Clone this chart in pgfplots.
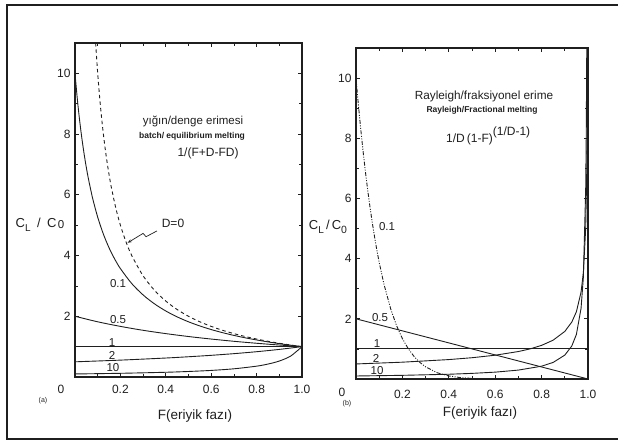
\documentclass[border=0pt]{standalone}
\usepackage{fontspec}
\setmainfont{Liberation Sans}
\usepackage{pgfplots}
\pgfplotsset{compat=1.18}
\usetikzlibrary{arrows.meta}
\definecolor{ink}{gray}{0.12}
\begin{document}
\begin{tikzpicture}
\useasboundingbox (0pt,0pt) rectangle (618pt,442pt);
\draw[line width=1.3pt, ink] (618pt,437pt) -- (7pt,437pt) -- (7pt,3pt) -- (618pt,3pt);

\pgfplotsset{
 common/.style={
  scale only axis, anchor=south west,
  xmin=0,xmax=1,ymin=0,ymax=11,
  xtick={0.2,0.4,0.6,0.8,1.0},
  xticklabels={0.2,0.4,0.6,0.8,1.0},
  minor xtick={0.1,0.3,0.5,0.7,0.9},
  ytick={2,4,6,8,10},
  minor ytick={1,3,5,7,9},
  tick align=inside,
  major tick length=4pt, minor tick length=3pt,
  tick style={line width=0.7pt, ink},
  axis line style={line width=1.1pt, ink},
  ticklabel style={font=\fontsize{12}{14}\selectfont, text=ink},
  /pgf/number format/assume math mode=true,
  xticklabel style={yshift=-5pt},
  yticklabel style={xshift=-1pt},
  clip=true,
 },
 crv/.style={line width=0.9pt, ink, no markers},
}

% ---------------- (a) batch melting ----------------
\begin{axis}[common, at={(75pt,65pt)}, width=227pt, height=334pt]
\addplot[crv, smooth, dash pattern=on 3.5pt off 3pt] coordinates {
(0.0909,11) (0.1,10) (0.11,9.091) (0.12,8.333) (0.13,7.692) (0.14,7.143) (0.15,6.667)
(0.16,6.25) (0.18,5.556) (0.2,5) (0.225,4.444) (0.25,4) (0.3,3.333) (0.35,2.857)
(0.4,2.5) (0.45,2.222) (0.5,2) (0.55,1.818) (0.6,1.667) (0.65,1.538) (0.7,1.429)
(0.75,1.333) (0.8,1.25) (0.85,1.176) (0.9,1.111) (0.95,1.053) (1.0,1)};
\addplot[crv, smooth] coordinates {
(0,10) (0.01,9.174) (0.02,8.475) (0.03,7.874) (0.04,7.353) (0.05,6.897) (0.06,6.494)
(0.075,5.970) (0.08,5.814) (0.1,5.263) (0.125,4.706) (0.15,4.255) (0.175,3.883)
(0.2,3.571) (0.25,3.077) (0.3,2.703) (0.35,2.410) (0.4,2.174) (0.45,1.980) (0.5,1.818)
(0.55,1.681) (0.6,1.5625) (0.65,1.460) (0.7,1.370) (0.75,1.290) (0.8,1.220)
(0.85,1.156) (0.9,1.099) (0.95,1.047) (1.0,1)};
\addplot[crv, smooth] coordinates {
(0,2) (0.1,1.818) (0.2,1.667) (0.3,1.538) (0.4,1.429) (0.5,1.333) (0.6,1.25)
(0.7,1.176) (0.8,1.111) (0.9,1.053) (1.0,1)};
\addplot[crv] coordinates {(0,1) (1,1)};
\addplot[crv, smooth] coordinates {
(0,0.5) (0.2,0.556) (0.4,0.625) (0.5,0.667) (0.6,0.714) (0.7,0.769) (0.8,0.833)
(0.9,0.909) (1.0,1)};
\addplot[crv, smooth] coordinates {
(0,0.1) (0.2,0.122) (0.4,0.156) (0.5,0.182) (0.6,0.217) (0.7,0.270) (0.8,0.357)
(0.85,0.426) (0.9,0.526) (0.95,0.690) (1.0,1)};
\draw[ink, line width=0.7pt, -{Stealth[length=4pt,width=3pt]}]
 (axis cs:0.361,4.81) -- (axis cs:0.313,4.62) -- (axis cs:0.300,4.73) -- (axis cs:0.232,4.42);
\end{axis}

% ---------------- (b) fractional melting ----------------
\begin{axis}[common, at={(356pt,63pt)}, width=232pt, height=331pt, xticklabel style={yshift=-3pt}]
\addplot[crv, dash pattern=on 4pt off 1.5pt on 1pt off 1.5pt on 1pt off 1.5pt] coordinates {
(0,10) (0.01,9.135) (0.02,8.337) (0.03,7.603) (0.04,6.925) (0.05,6.302) (0.06,5.730)
(0.07,5.204) (0.08,4.722) (0.09,4.279) (0.1,3.874) (0.12,3.165) (0.15,2.316)
(0.175,1.770) (0.2,1.342) (0.225,1.008) (0.25,0.751) (0.275,0.553) (0.3,0.404)
(0.35,0.207) (0.4,0.101) (0.45,0.046) (0.5,0.0195)};
\addplot[crv] coordinates {(0,2) (1,0)};
\addplot[crv] coordinates {(0,1) (1,1)};
\addplot[crv] coordinates {
(0,0.5) (0.2,0.559) (0.4,0.6455) (0.5,0.7071) (0.6,0.7906) (0.7,0.9129) (0.75,1.0)
(0.8,1.118) (0.85,1.291) (0.9,1.581) (0.93,1.890) (0.95,2.236) (0.97,2.887)
(0.98,3.536) (0.99,5.0) (0.995,7.071) (0.9975,10) (0.99793,11)};
\addplot[crv] coordinates {
(0,0.1) (0.2,0.122) (0.4,0.158) (0.5,0.187) (0.6,0.228) (0.7,0.296) (0.8,0.426)
(0.85,0.552) (0.9,0.794) (0.93,1.095) (0.95,1.482) (0.97,2.347) (0.98,3.381)
(0.99,6.31) (0.9925,8.175) (0.99461,11)};
\end{axis}

% ---------------- texts ----------------
\begin{scope}[x=1pt,y=1pt]
\tikzset{t/.style={text=ink, inner sep=0pt}}
% panel a
\node[t, font=\fontsize{11.5}{13}\selectfont] at (193,321) {yığın/denge erimesi};
\node[t, font=\fontsize{8.5}{10}\selectfont\bfseries] at (192,306) {batch/ equilibrium melting};
\node[t, font=\fontsize{12}{14}\selectfont] at (208,289) {1/(F+D-FD)};
\node[t, font=\fontsize{12}{14}\selectfont] at (173,219) {D=0};
\node[t, font=\fontsize{11.5}{13}\selectfont] at (118,158) {0.1};
\node[t, font=\fontsize{11.5}{13}\selectfont] at (118,122) {0.5};
\node[t, font=\fontsize{11.5}{13}\selectfont] at (112,99) {1};
\node[t, font=\fontsize{11.5}{13}\selectfont] at (112,87) {2};
\node[t, font=\fontsize{11.5}{13}\selectfont] at (113,74) {10};
\node[t, font=\fontsize{12}{14}\selectfont] at (61,53) {0};
\node[t, font=\fontsize{7}{8}\selectfont] at (43,41) {(a)};
\node[t, font=\fontsize{13.5}{16}\selectfont] at (195,26) {F(eriyik fazı)};
\node[t, font=\fontsize{13}{15}\selectfont] at (40,217) {C\raisebox{-0.5ex}{\fontsize{10}{12}\selectfont L}\hspace{0.5em}/\hspace{0.5em}C\hspace{0.1em}\raisebox{-0.1ex}{\fontsize{11.5}{12}\selectfont 0}};
% panel b
\node[t, font=\fontsize{11.8}{14}\selectfont] at (484,346) {Rayleigh/fraksiyonel erime};
\node[t, font=\fontsize{8.5}{10}\selectfont\bfseries] at (482,332) {Rayleigh/Fractional melting};
\node[t, font=\fontsize{12}{14}\selectfont, anchor=base west] at (446,299) {1/D\,(1-F)\raisebox{1.2ex}{(1/D-1)}};
\node[t, font=\fontsize{11.5}{13}\selectfont] at (387,215) {0.1};
\node[t, font=\fontsize{11.5}{13}\selectfont] at (380,124) {0.5};
\node[t, font=\fontsize{11.5}{13}\selectfont] at (377,98) {1};
\node[t, font=\fontsize{11.5}{13}\selectfont] at (376,84) {2};
\node[t, font=\fontsize{11.5}{13}\selectfont] at (377,71) {10};
\node[t, font=\fontsize{12}{14}\selectfont] at (342,50) {0};
\node[t, font=\fontsize{7}{8}\selectfont] at (347,38) {(b)};
\node[t, font=\fontsize{13.5}{16}\selectfont] at (480,29) {F(eriyik fazı)};
\node[t, font=\fontsize{13}{15}\selectfont] at (328,215) {C\raisebox{-0.5ex}{\fontsize{10}{12}\selectfont L}\,/\,C\raisebox{-0.5ex}{\fontsize{10.5}{12}\selectfont 0}};
\end{scope}
\end{tikzpicture}
\end{document}
